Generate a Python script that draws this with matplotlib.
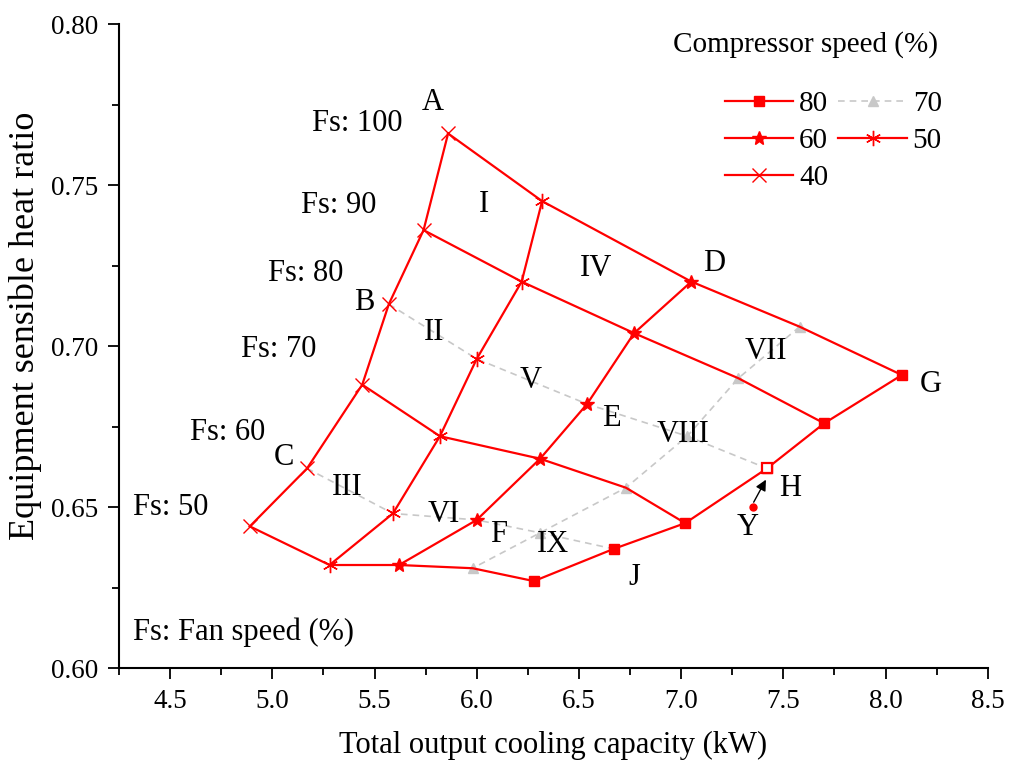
import matplotlib
matplotlib.use("Agg")
import matplotlib.pyplot as plt
from matplotlib.ticker import MultipleLocator, FormatStrFormatter

plt.rcParams['font.family'] = ['Liberation Serif', 'DejaVu Serif']

# fan speed levels (%) for each point, top to bottom
fan_speed = [100, 90, 80, 70, 60, 50]

# total cooling capacity (kW) and sensible heat ratio per compressor speed
cap_80 = [8.08, 7.70, 7.42, 7.02, 6.67, 6.28]
shr_80 = [0.691, 0.676, 0.662, 0.645, 0.637, 0.627]
cap_70 = [7.58, 7.28, 7.03, 6.73, 6.31, 5.98]
shr_70 = [0.706, 0.690, 0.672, 0.656, 0.642, 0.631]
cap_60 = [7.05, 6.77, 6.54, 6.31, 6.00, 5.62]
shr_60 = [0.720, 0.704, 0.682, 0.665, 0.646, 0.632]
cap_50 = [6.32, 6.22, 6.00, 5.82, 5.59, 5.28]
shr_50 = [0.745, 0.720, 0.696, 0.672, 0.648, 0.632]
cap_40 = [5.86, 5.74, 5.57, 5.44, 5.17, 4.89]
shr_40 = [0.766, 0.736, 0.713, 0.688, 0.662, 0.644]

# extra operating point Y
cap_y = 7.35
shr_y = 0.650

red = '#ff0000'
grey = '#c8c8c8'

fig = plt.figure(figsize=(10.12, 7.67), dpi=100)
ax = fig.add_axes([0.1176, 0.129, 0.8584, 0.8397])

caps = [cap_40, cap_50, cap_60, cap_70, cap_80]
shrs = [shr_40, shr_50, shr_60, shr_70, shr_80]

# constant fan speed lines (rows across compressor speeds)
for i, fs in enumerate(fan_speed):
    xs = [c[i] for c in caps]
    ys = [s[i] for s in shrs]
    if fs in (80, 60):
        ax.plot(xs, ys, color=grey, lw=1.2, ls=(0, (4, 3)), zorder=1)
    else:
        ax.plot(xs, ys, color=red, lw=1.6, zorder=2)

# constant compressor speed lines
l80, = ax.plot(cap_80, shr_80, color=red, lw=1.6, marker='s', ms=7.5, label='80', zorder=3)
l70, = ax.plot(cap_70, shr_70, color=grey, lw=1.2, ls=(0, (4, 3)), marker='^', ms=7,
               label='70', zorder=1)
l60, = ax.plot(cap_60, shr_60, color=red, lw=1.6, marker='*', ms=10, label='60', zorder=3)
l50, = ax.plot(cap_50, shr_50, color=red, lw=1.6, marker=(6, 2, 0), ms=11, mew=1.0,
               label='50', zorder=3)
l40, = ax.plot(cap_40, shr_40, color=red, lw=1.6, marker='x', ms=10, mew=1.0,
               label='40', zorder=3)

# point H drawn hollow
ax.plot(cap_80[2], shr_80[2], marker='s', ms=7.5, mfc='white', mec=red, mew=1.6, zorder=4)

# point Y and arrow towards H
ax.plot(cap_y, shr_y, 'o', color=red, ms=5, zorder=4)
ax.annotate('', xy=(cap_80[2] - 0.005, shr_80[2] - 0.0035), xytext=(cap_y + 0.005, shr_y + 0.0015),
            arrowprops=dict(arrowstyle='-|>', color='black', lw=1.0, mutation_scale=16,
                            shrinkA=0, shrinkB=0),
            zorder=5)

fs_txt = 22
# fan speed labels
ax.text(5.414, 0.769, 'Fs: 100', fontsize=fs_txt, ha='center', va='center')
ax.text(5.326, 0.7435, 'Fs: 90', fontsize=fs_txt, ha='center', va='center')
ax.text(5.164, 0.7224, 'Fs: 80', fontsize=fs_txt, ha='center', va='center')
ax.text(5.032, 0.699, 'Fs: 70', fontsize=fs_txt, ha='center', va='center')
ax.text(4.783, 0.6733, 'Fs: 60', fontsize=fs_txt, ha='center', va='center')
ax.text(4.504, 0.650, 'Fs: 50', fontsize=fs_txt, ha='center', va='center')
ax.text(4.32, 0.6112, 'Fs: Fan speed (%)', fontsize=fs_txt, ha='left', va='center')

# point letters
for s, x, y in [('A', 5.786, 0.7755), ('B', 5.448, 0.7134), ('C', 5.057, 0.6655),
                ('D', 7.16, 0.7255), ('E', 6.66, 0.6776), ('F', 6.108, 0.6416),
                ('G', 8.22, 0.6882), ('H', 7.531, 0.6559), ('J', 6.773, 0.628),
                ('Y', 7.326, 0.6438)]:
    ax.text(x, y, s, fontsize=fs_txt, ha='center', va='center')

# region numerals
for s, x, y in [('I', 6.035, 0.7438), ('II', 5.79, 0.7043), ('III', 5.365, 0.6562),
                ('IV', 6.583, 0.7242), ('V', 6.265, 0.6894), ('VI', 5.839, 0.6478),
                ('VII', 7.414, 0.6984), ('VIII', 7.008, 0.6724), ('IX', 6.372, 0.6385)]:
    ax.text(x, y, s, fontsize=fs_txt, ha='center', va='center', zorder=6)

ax.set_xlim(4.25, 8.5)
ax.set_ylim(0.60, 0.80)
ax.xaxis.set_major_locator(MultipleLocator(0.5))
ax.xaxis.set_minor_locator(MultipleLocator(0.25))
ax.yaxis.set_major_locator(MultipleLocator(0.05))
ax.yaxis.set_minor_locator(MultipleLocator(0.025))
ax.xaxis.set_major_formatter(FormatStrFormatter('%.1f'))
ax.yaxis.set_major_formatter(FormatStrFormatter('%.2f'))
ax.spines['top'].set_visible(False)
ax.spines['right'].set_visible(False)
ax.spines['left'].set_linewidth(1.5)
ax.spines['bottom'].set_linewidth(1.5)
ax.tick_params(which='major', direction='out', length=8, width=1.3, pad=7)
ax.tick_params(axis='x', which='major', labelsize=19.5)
ax.tick_params(axis='y', which='major', labelsize=19.5)
ax.tick_params(which='minor', direction='out', length=5, width=1.3)

ax.set_xlabel('Total output cooling capacity (kW)', fontsize=22, labelpad=12)
ax.set_ylabel('Equipment sensible heat ratio', fontsize=26)
ax.yaxis.set_label_coords(-0.089, 0.531)

# legend title placed as text, entries in two columns below it
ax.text(7.609, 0.7935, 'Compressor speed (%)', fontsize=21, ha='center', va='center')
leg = ax.legend([l80, l60, l40, l70, l50], ['80', '60', '40', '70', '50'], ncol=2,
                fontsize=21, frameon=False, loc='upper left',
                bbox_to_anchor=(0.716, 0.882), bbox_transform=fig.transFigure,
                borderaxespad=0, borderpad=0,
                handlelength=2.35, columnspacing=0.35, handletextpad=0.2,
                labelspacing=0.36)

fig.savefig('out.png', dpi=100)
